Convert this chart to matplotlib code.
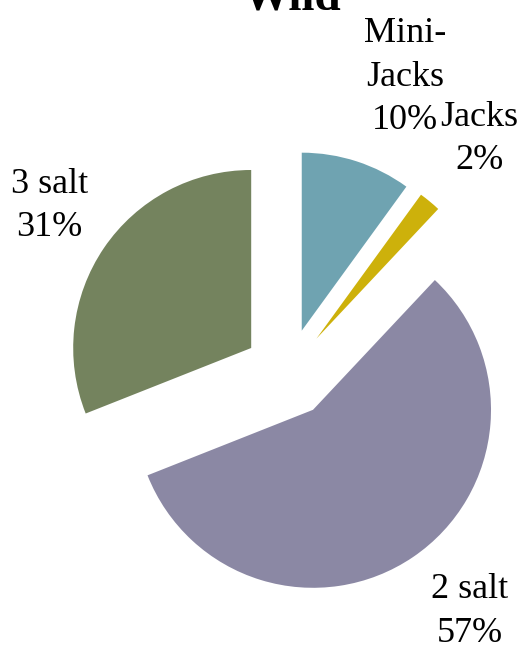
import numpy as np
import matplotlib
matplotlib.use("Agg")
import matplotlib.pyplot as plt

categories = ["Mini-\nJacks", "Jacks", "2 salt", "3 salt"]
values = [10, 2, 57, 31]
pct_labels = ["10%", "2%", "57%", "31%"]
colors = ["#6FA3B1", "#CDB10B", "#8B88A4", "#74835E"]

W, H, DPI = 524, 655, 100
R_PX = 178.0
CX, CY = 288.0, 373.0  # pixel centre (from top)
EXPLODE = 0.25

fig = plt.figure(figsize=(W / DPI, H / DPI), dpi=DPI)
ax = fig.add_axes([0, 0, 1, 1])

wedges, _ = ax.pie(values, colors=colors, startangle=90, counterclock=False,
                   explode=[EXPLODE] * len(values), radius=1.0,
                   wedgeprops=dict(linewidth=0))
ax.set_aspect("auto")
ax.set_xlim(-CX / R_PX, (W - CX) / R_PX)
ax.set_ylim(-(H - CY) / R_PX, CY / R_PX)
ax.axis("off")

# label placement (radial distance from pie centre, angle tweak in degrees)
label_dist = [1.787, 1.70, 1.685, 1.635]
label_dang = [-3.6, 0.3, 3.1, -0.8]
for w, cat, pct, d, da in zip(wedges, categories, pct_labels, label_dist, label_dang):
    ang = np.deg2rad((w.theta1 + w.theta2) / 2 + da)
    ax.text(d * np.cos(ang), d * np.sin(ang), f"{cat}\n{pct}",
            ha="center", va="center", fontsize=26, family="Liberation Serif",
            linespacing=1.42, color="black")

fig.text(0.556, 1 - 10 / H, "Wild", ha="center", va="baseline", fontsize=34,
         fontweight="bold", family="Liberation Serif")

fig.savefig("out.png", dpi=DPI)
